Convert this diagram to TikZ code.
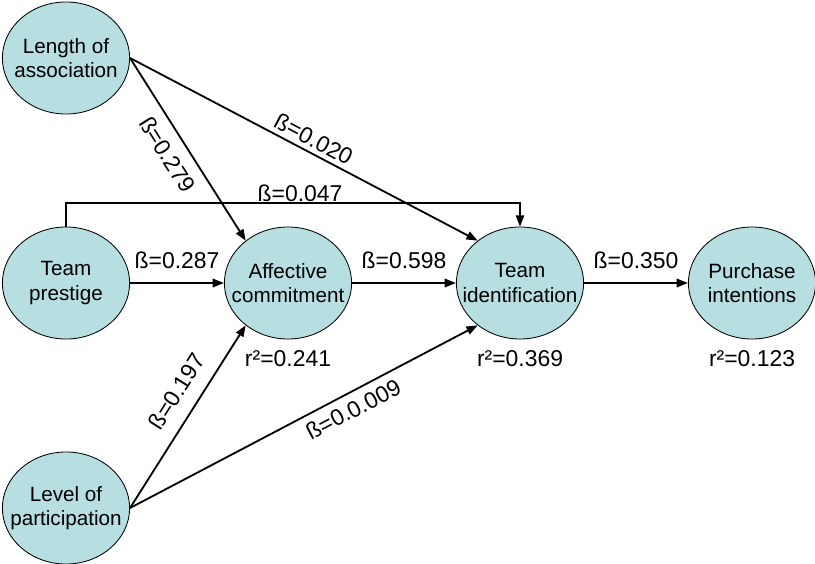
\documentclass[tikz,border=0pt]{standalone}
\usepackage{fontspec}
\setmainfont{Liberation Sans}
\usepackage{tikz}
\usetikzlibrary{positioning,shapes.geometric,arrows.meta}
\definecolor{paleteal}{RGB}{183,222,225}

\begin{document}
\begin{tikzpicture}[x=0.025cm, y=-0.025cm,
    font=\fontsize{14.7}{17.5}\selectfont,
    construct/.style={ellipse, draw, line width=0.6pt, fill=paleteal,
        minimum width=3.18cm, minimum height=2.8cm, inner sep=0pt},
    link/.style={line width=1.3pt, -{Triangle[length=8pt,width=6pt]}},
    coef/.style={inner sep=2pt, font=\fontsize{16.3}{19}\selectfont}]
        \useasboundingbox (0,0) rectangle (815,564);
        % Constructs
        \node[construct, label={[align=center]center:Length of\\association}] (length) at (66,58) {};
        \node[construct, label={[align=center]center:Team\\prestige}] (prestige) at (66,283) {};
        \node[construct, label={[align=center]center:Affective\\commitment}] (affect) at (288,283) {};
        \node[construct, label={[align=center]center:Team\\identification}] (ident) at (520,283) {};
        \node[construct, label={[align=center]center:Purchase\\intentions}] (purchase) at (752,283) {};
        \node[construct, label={[align=center]center:Level of\\participation}] (level) at (66,508) {};
        % Explained variance
        \node[coef, below=6pt of affect] (r2affect) {r²=0.241};
        \node[coef, below=6pt of ident] (r2ident) {r²=0.369};
        \node[coef, below=6pt of purchase] (r2purchase) {r²=0.123};
        % Paths
        \draw[link] (length.east) -- node[coef, sloped, pos=0.47, below=5.5pt] {ß=0.279} (affect.135);
        \draw[link] (length.east) -- node[coef, sloped, pos=0.51, above=1.2pt] {ß=0.020} (ident.135);
        \coordinate (bend) at (300,203);
        \draw[link] (prestige.north) |- (bend) node[coef, inner sep=0.5pt, above] {ß=0.047} -| (ident.north);
        \draw[link] (prestige) -- node[coef, above=7.2pt] {ß=0.287} (affect);
        \draw[link] (affect) -- node[coef, above=7.2pt] {ß=0.598} (ident);
        \draw[link] (ident) -- node[coef, above=7.2pt] {ß=0.350} (purchase);
        \draw[link] (level.east) -- node[coef, sloped, pos=0.57, above=7.7pt] {ß=0.197} (affect.225);
        \draw[link] (level.east) -- node[coef, sloped, pos=0.62, below=3pt] {ß=0.0.009} (ident.225);
    \end{tikzpicture}
\end{document}
